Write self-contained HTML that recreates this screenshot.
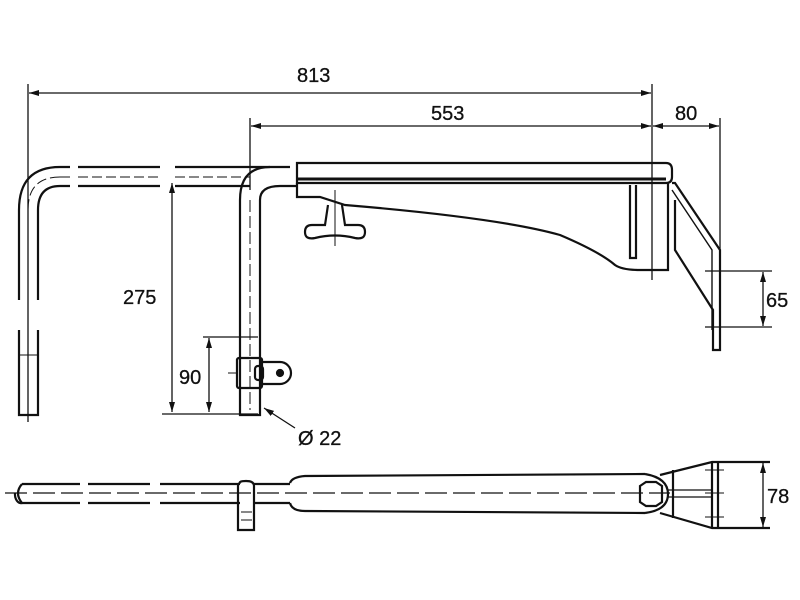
<!DOCTYPE html>
<html><head><meta charset="utf-8"><style>
html,body{margin:0;padding:0;background:#fff;}
svg{display:block}
text{font-family:"Liberation Sans",Arial,sans-serif;font-size:20px;fill:#111;stroke:#111;stroke-width:0.3;}
</style></head><body>
<svg width="800" height="600" viewBox="0 0 800 600" xmlns="http://www.w3.org/2000/svg">
<defs>
<marker id="a" viewBox="0 0 10 6" refX="10" refY="3" markerWidth="10" markerHeight="6" orient="auto-start-reverse" markerUnits="userSpaceOnUse">
<path d="M0,0 L10,3 L0,6 z" fill="#111"/></marker>
</defs>
<g stroke="#111" fill="none" stroke-width="1.3">
<line x1="28" y1="84" x2="28" y2="422"/>
<line x1="29" y1="93" x2="651" y2="93" marker-start="url(#a)" marker-end="url(#a)"/>
<line x1="652" y1="84" x2="652" y2="280"/>
<line x1="250" y1="118" x2="250" y2="190"/>
<line x1="251" y1="126" x2="651" y2="126" marker-start="url(#a)" marker-end="url(#a)"/>
<line x1="653" y1="126" x2="719" y2="126" marker-start="url(#a)" marker-end="url(#a)"/>
<line x1="720" y1="118" x2="720" y2="255"/>
<line x1="172" y1="183" x2="172" y2="412" marker-start="url(#a)" marker-end="url(#a)"/>
<line x1="162" y1="414" x2="258" y2="414"/>
<line x1="209" y1="338" x2="209" y2="412" marker-start="url(#a)" marker-end="url(#a)"/>
<line x1="203" y1="337" x2="258" y2="337"/>
<line x1="705" y1="271" x2="772" y2="271"/>
<line x1="705" y1="327" x2="772" y2="327"/>
<line x1="763" y1="272" x2="763" y2="326" marker-start="url(#a)" marker-end="url(#a)"/>
<line x1="295" y1="428" x2="264" y2="408" marker-end="url(#a)"/>
</g>
<g stroke="#111" fill="none" stroke-width="2.2">
<path d="M60,167 H70 M78,167 H160 M175,167 H290"/>
<path d="M60,186 H70 M78,186 H160 M175,186 H250"/>
<path d="M60,167 Q19,167 19,210 V300 M19,330 V415 H38 V330 M38,300 V210 Q38,186 60,186"/>
<path d="M19,355 H38" stroke-width="1"/>
<path d="M60,177 H70 M78,177 H160 M175,177 H250 M60,177 Q28,177 28,210 V300 M28,330 V420" stroke-width="1" stroke-dasharray="10,4"/>
<path d="M270,167 Q240,167 240,200 V415 H260 V200 Q260,186 280,186 H297"/>
<path d="M250,200 V410" stroke-width="1" stroke-dasharray="12,4"/>
<rect x="237" y="358" width="25" height="30" rx="2"/>
<path d="M262,362 H280 A11,11 0 0 1 280,384 H262"/>
<circle cx="280" cy="373" r="3" fill="#111"/>
<rect x="255" y="366" width="8" height="14" rx="3"/>
<line x1="228" y1="373" x2="237" y2="373" stroke-width="1"/>
<path d="M297,163 H666 Q672,163 672,170 V177 Q672,183 666,183 H297 Z"/>
<path d="M297,179 H666" stroke-width="3"/>
<path d="M297,183 V197 H320 L345,205 Q500,218 560,235 Q600,252 615,265 Q622,270 640,270 H668 V183"/>
<path d="M630,185 V258 H636 V185"/>
<path d="M672,183 H675 L720,250 V350 H713 V310 L675,250 V200 "/>
<path d="M672,190 L712,250 V330" stroke-width="1.4"/>
<path d="M328,205 L325,225 H312 Q305,225 305,232 Q305,240 315,238 Q335,233 355,238 Q365,240 365,232 Q365,225 358,225 H345 L342,205"/>
<line x1="335" y1="190" x2="335" y2="246" stroke-width="1"/>
</g>
<g stroke="#111" fill="none" stroke-width="2.2">
<line x1="5" y1="493" x2="670" y2="493" stroke-width="1.2" stroke-dasharray="22,6"/>
<path d="M22,484 H80 M88,484 H150 M160,484 H240 M22,503 H80 M88,503 H150 M160,503 H240"/>
<path d="M22,484 Q14,493 22,503 M15,493 A6,9 0 0 0 22,503"/>
<path d="M240,484 Q238,481 246,481 Q254,481 254,486 V530 H238 V486 Q238,483 240,484"/>
<path d="M254,484 H290 M254,503 H290"/>
<path d="M241,512 H252 M241,520 H252" stroke-width="1"/>
<path d="M290,483 Q292,477 305,476 L645,474 M290,503 Q292,511 305,511 L645,513"/>
<path d="M645,474 Q668,478 668,494 Q668,510 645,513"/>
<polygon points="640,486 646,482 656,482 662,486 662,502 656,506 646,506 640,502"/>
<path d="M660,475 L712,462 H770 M660,513 L712,528 H770"/>
<path d="M673,470 V518 M712,462 V528 M718,462 V528"/>
<path d="M668,490 H712 M668,497 H712" stroke-width="1.2"/>
<path d="M705,470 H724 M705,493 H724 M705,517 H724" stroke-width="1"/>
<line x1="763" y1="463" x2="763" y2="527" stroke-width="1.3" marker-start="url(#a)" marker-end="url(#a)"/>
</g>
<text x="297" y="82">813</text>
<text x="431" y="120">553</text>
<text x="675" y="120">80</text>
<text x="123" y="304">275</text>
<text x="179" y="384">90</text>
<text x="766" y="307">65</text>
<text x="298" y="445">Ø 22</text>
<text x="767" y="503">78</text>
</svg>
</body></html>
